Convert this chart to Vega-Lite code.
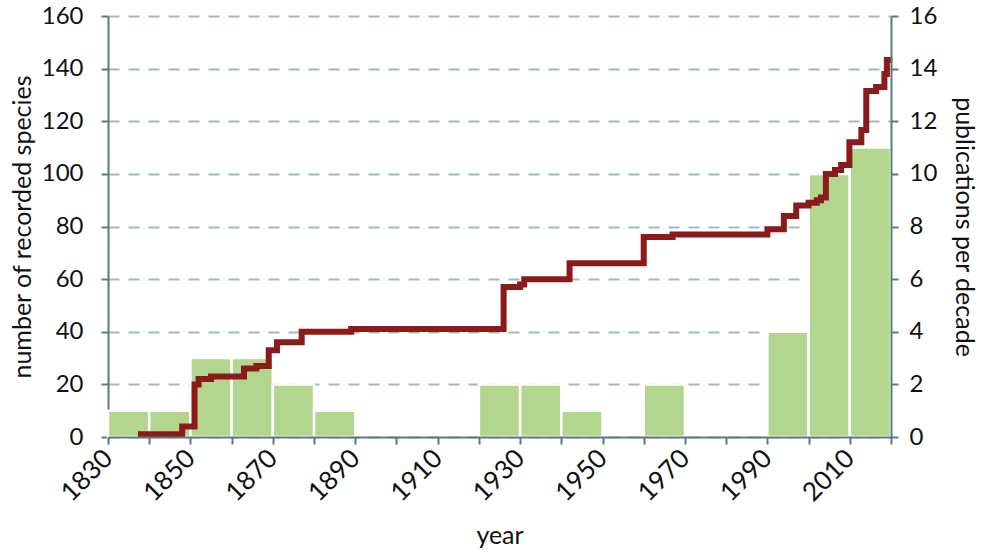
{
  "$schema": "https://vega.github.io/schema/vega-lite/v6.json",
  "autosize": "none",
  "width": 783,
  "height": 421,
  "padding": {"left": 108, "top": 16, "right": 92, "bottom": 120},
  "background": "white",
  "config": {
    "font": "Lato",
    "view": {"stroke": null},
    "axis": {
      "labelFont": "Lato",
      "titleFont": "Lato",
      "labelFontSize": 24,
      "titleFontSize": 25,
      "labelColor": "#111111",
      "titleColor": "#111111",
      "titleFontWeight": "normal",
      "domainColor": "#5b7b7a",
      "tickColor": "#5b7b7a",
      "domainWidth": 2,
      "tickWidth": 2
    }
  },
  "datasets": {
    "pubs": [
      {"decade_start": 1830, "decade_end": 1840, "publications": 1},
      {"decade_start": 1840, "decade_end": 1850, "publications": 1},
      {"decade_start": 1850, "decade_end": 1860, "publications": 3},
      {"decade_start": 1860, "decade_end": 1870, "publications": 3},
      {"decade_start": 1870, "decade_end": 1880, "publications": 2},
      {"decade_start": 1880, "decade_end": 1890, "publications": 1},
      {"decade_start": 1920, "decade_end": 1930, "publications": 2},
      {"decade_start": 1930, "decade_end": 1940, "publications": 2},
      {"decade_start": 1940, "decade_end": 1950, "publications": 1},
      {"decade_start": 1960, "decade_end": 1970, "publications": 2},
      {"decade_start": 1990, "decade_end": 2000, "publications": 4},
      {"decade_start": 2000, "decade_end": 2010, "publications": 10},
      {"decade_start": 2010, "decade_end": 2020, "publications": 11}
    ],
    "species": [
      {"year": 1838, "species": 1},
      {"year": 1848, "species": 4},
      {"year": 1851, "species": 20},
      {"year": 1852, "species": 22},
      {"year": 1855, "species": 23},
      {"year": 1863, "species": 26},
      {"year": 1866, "species": 27},
      {"year": 1869, "species": 33},
      {"year": 1871, "species": 36},
      {"year": 1877, "species": 40},
      {"year": 1889, "species": 41},
      {"year": 1926, "species": 57},
      {"year": 1930, "species": 58},
      {"year": 1931, "species": 60},
      {"year": 1942, "species": 66},
      {"year": 1960, "species": 76},
      {"year": 1967, "species": 77},
      {"year": 1990, "species": 79},
      {"year": 1994, "species": 84},
      {"year": 1997, "species": 88},
      {"year": 2000, "species": 89},
      {"year": 2002, "species": 90},
      {"year": 2003, "species": 91},
      {"year": 2004.2, "species": 100},
      {"year": 2006.4, "species": 101.5},
      {"year": 2007.9, "species": 103.4},
      {"year": 2009.9, "species": 112},
      {"year": 2012.8, "species": 116.7},
      {"year": 2014, "species": 131.5},
      {"year": 2016.4, "species": 133},
      {"year": 2018.4, "species": 138},
      {"year": 2019, "species": 143.3},
      {"year": 2019.6, "species": 143.3}
    ]
  },
  "layer": [
    {
      "data": {"name": "pubs"},
      "mark": {"type": "bar", "color": "#b3d68f", "stroke": "white", "strokeWidth": 2.5},
      "encoding": {
        "x": {
          "field": "decade_start",
          "type": "quantitative",
          "scale": {"domain": [1830, 2020], "nice": false, "zero": false},
          "axis": {
            "title": "year",
            "values": [1830, 1840, 1850, 1860, 1870, 1880, 1890, 1900, 1910, 1920, 1930, 1940, 1950, 1960, 1970, 1980, 1990, 2000, 2010, 2020],
            "labelExpr": "(datum.value - 1830) % 20 == 0 && datum.value < 2020 ? datum.value + '' : ''",
            "labelAngle": -45,
            "labelAlign": "right",
            "labelBaseline": "middle",
            "labelFontSize": 26,
            "labelPadding": 10,
            "tickSize": 7,
            "titlePadding": 18,
            "grid": false,
            "zindex": 1
          }
        },
        "x2": {"field": "decade_end"},
        "y": {
          "field": "publications",
          "type": "quantitative",
          "scale": {"domain": [0, 16], "nice": false},
          "axis": {
            "orient": "right",
            "title": "publications per decade",
            "values": [0, 2, 4, 6, 8, 10, 12, 14, 16],
            "tickSize": 7,
            "labelPadding": 11,
            "titlePadding": 14,
            "grid": false,
            "zindex": 1
          }
        },
        "y2": {"datum": 0}
      }
    },
    {
      "data": {"name": "species"},
      "mark": {"type": "line", "interpolate": "step-after", "color": "#8b1a1a", "strokeWidth": 6, "strokeJoin": "miter", "strokeCap": "square"},
      "encoding": {
        "x": {"field": "year", "type": "quantitative"},
        "y": {
          "field": "species",
          "type": "quantitative",
          "scale": {"domain": [0, 160], "nice": false},
          "axis": {
            "title": "number of recorded species",
            "values": [0, 20, 40, 60, 80, 100, 120, 140, 160],
            "tickSize": 7,
            "labelPadding": 18,
            "titlePadding": 6,
            "grid": true,
            "gridColor": "#a3bbb8",
            "gridDash": [11, 9],
            "gridWidth": 2
          }
        }
      }
    }
  ],
  "resolve": {"scale": {"y": "independent"}}
}
